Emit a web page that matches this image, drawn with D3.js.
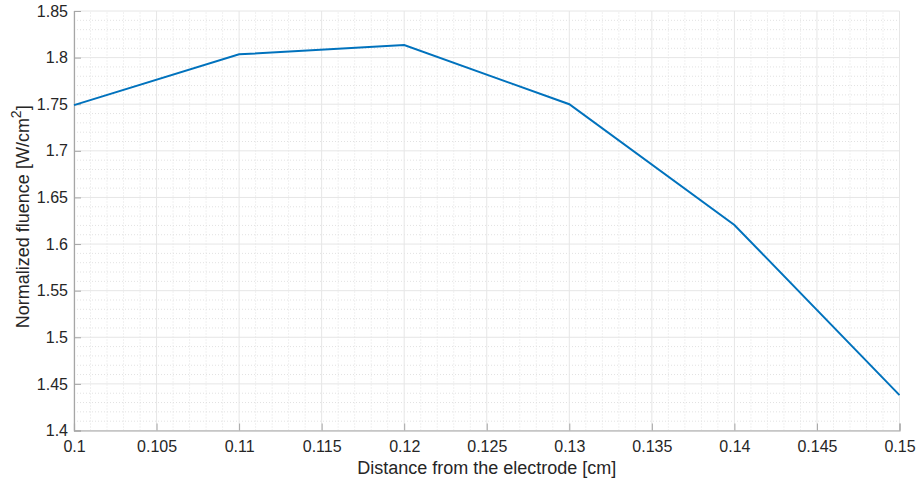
<!DOCTYPE html>
<html>
<head>
<meta charset="utf-8">
<script src="https://cdn.jsdelivr.net/npm/d3@7"></script>
<style>
  body { margin: 0; background: #fff; }
  svg { display: block; font-family: "Liberation Sans", Arial, sans-serif; }
</style>
</head>
<body>
<div id="chart"></div>
<script>
// Values.
const distances = [0.10, 0.11, 0.12, 0.13, 0.14, 0.15];
const fluence = [1.749, 1.8035, 1.8135, 1.750, 1.6205, 1.438];
const xTicks = [0.1, 0.105, 0.11, 0.115, 0.12, 0.125, 0.13, 0.135, 0.14, 0.145, 0.15];
const yTicks = [1.4, 1.45, 1.5, 1.55, 1.6, 1.65, 1.7, 1.75, 1.8, 1.85];

const width = 919, height = 484;
const margin = { top: 11, right: 19.5, bottom: 53.5, left: 74 };

const x = d3.scaleLinear().domain([0.1, 0.15]).range([margin.left, width - margin.right]);
const y = d3.scaleLinear().domain([1.4, 1.85]).range([height - margin.bottom, margin.top]);

const svg = d3.select("#chart").append("svg")
    .attr("width", width)
    .attr("height", height);

// Minor grid (dotted).
const xMinor = d3.range(0, 51).map(i => 0.1 + i * 0.001).filter((_, i) => i % 5 !== 0);
const yMinor = d3.range(0, 46).map(i => 1.4 + i * 0.01).filter((_, i) => i % 5 !== 0);

const grid = svg.append("g");
grid.selectAll(".xminor").data(xMinor).join("line")
    .attr("x1", d => x(d)).attr("x2", d => x(d))
    .attr("y1", y(1.4)).attr("y2", y(1.85))
    .attr("stroke", "#e2e2e2").attr("stroke-dasharray", "1,2");
grid.selectAll(".yminor").data(yMinor).join("line")
    .attr("x1", x(0.1)).attr("x2", x(0.15))
    .attr("y1", d => y(d)).attr("y2", d => y(d))
    .attr("stroke", "#e2e2e2").attr("stroke-dasharray", "1,2");

// Major grid.
grid.selectAll(".xmajor").data(xTicks).join("line")
    .attr("x1", d => x(d)).attr("x2", d => x(d))
    .attr("y1", y(1.4)).attr("y2", y(1.85))
    .attr("stroke", "#e6e6e6");
grid.selectAll(".ymajor").data(yTicks).join("line")
    .attr("x1", x(0.1)).attr("x2", x(0.15))
    .attr("y1", d => y(d)).attr("y2", d => y(d))
    .attr("stroke", "#e6e6e6");

// Axes.
svg.append("g")
    .attr("transform", `translate(0,${y(1.4)})`)
    .call(d3.axisBottom(x).tickValues(xTicks).tickSize(-7).tickPadding(12).tickFormat(d => +d.toFixed(3)))
    .call(g => g.select(".domain").attr("stroke", "#a6a6a6").attr("stroke-width", 1.2))
    .call(g => g.selectAll(".tick line").attr("stroke", "#a6a6a6"))
    .call(g => g.selectAll("text").attr("fill", "#262626").attr("font-size", 16).attr("dy", "0.6em"));

svg.append("g")
    .attr("transform", `translate(${x(0.1)},0)`)
    .call(d3.axisLeft(y).tickValues(yTicks).tickSize(-7).tickPadding(6).tickFormat(d => +d.toFixed(2)))
    .call(g => g.select(".domain").attr("stroke", "#a6a6a6").attr("stroke-width", 1.2))
    .call(g => g.selectAll(".tick line").attr("stroke", "#a6a6a6"))
    .call(g => g.selectAll("text").attr("fill", "#262626").attr("font-size", 16));

// Data line.
const line = d3.line().x((d, i) => x(distances[i])).y(d => y(d));
svg.append("path")
    .datum(fluence)
    .attr("fill", "none")
    .attr("stroke", "#0072bd")
    .attr("stroke-width", 2)
    .attr("d", line);

// Axis labels.
svg.append("text")
    .attr("x", (x(0.1) + x(0.15)) / 2)
    .attr("y", 474)
    .attr("text-anchor", "middle")
    .attr("fill", "#262626")
    .attr("font-size", 18)
    .text("Distance from the electrode [cm]");

const yl = svg.append("text")
    .attr("transform", `translate(29,${(y(1.4) + y(1.85)) / 2 - 4}) rotate(-90)`)
    .attr("text-anchor", "middle")
    .attr("fill", "#262626")
    .attr("font-size", 18);
yl.append("tspan").text("Normalized fluence [W/cm");
yl.append("tspan").attr("dy", -8).attr("font-size", 14).text("2");
yl.append("tspan").attr("dy", 8).text("]");
</script>
</body>
</html>
